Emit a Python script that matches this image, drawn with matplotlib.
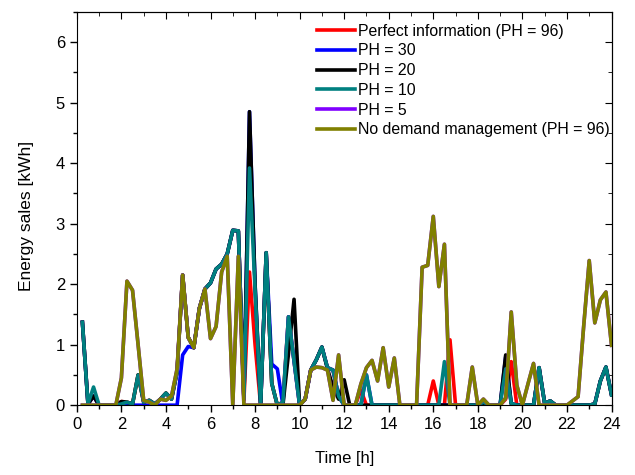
import matplotlib
matplotlib.use("Agg")
import matplotlib.pyplot as plt
import numpy as np

plt.rcParams['font.family'] = ['Liberation Sans', 'DejaVu Sans']

# 15-min steps over one day
time_h = np.arange(1, 97) * 0.25

no_dm = [
    0, 0, 0, 0, 0, 0, 0, 0.45,
    2.05, 1.9, 1.0, 0.08, 0.05, 0.0, 0.1, 0.08,
    0.15, 0.6, 2.15, 1.12, 0.95, 1.6, 1.92, 1.1,
    1.3, 2.2, 2.46, 0, 2.46, 0, 0, 0,
    0, 0, 0, 0, 0, 0, 0, 0,
    0.1, 0.58, 0.63, 0.62, 0.58, 0.08, 0.83, 0,
    0, 0, 0.35, 0.62, 0.74, 0.4, 0.95, 0.3,
    0.78, 0, 0, 0, 0, 2.28, 2.31, 3.12,
    1.96, 2.66, 0, 0, 0, 0, 0.63, 0,
    0.1, 0, 0, 0, 0.12, 1.54, 0.33, 0,
    0.35, 0.69, 0, 0, 0, 0, 0, 0,
    0.07, 0.14, 1.3, 2.39, 1.36, 1.74, 1.87, 0.99,
]

ph10 = [
    1.37, 0.02, 0.3, 0, 0, 0, 0, 0.02,
    0.05, 0.02, 0.5, 0.05, 0.08, 0.02, 0.1, 0.2,
    0.1, 0.55, 2.15, 1.12, 0.95, 1.6, 1.92, 2.02,
    2.25, 2.33, 2.5, 2.89, 2.88, 0.1, 3.92, 1.9,
    0, 2.52, 0.36, 0, 0.05, 1.46, 0.73, 0,
    0.1, 0.58, 0.75, 0.96, 0.62, 0.58, 0.15, 0,
    0, 0, 0, 0.5, 0, 0, 0, 0,
    0, 0, 0, 0, 0, 0, 0, 0,
    0, 0.72, 0, 0, 0, 0, 0, 0,
    0.05, 0, 0, 0, 0.6, 0.03, 0, 0,
    0, 0, 0.62, 0.03, 0.07, 0, 0, 0,
    0, 0, 0, 0, 0.02, 0.4, 0.63, 0.17,
]

ph20 = [
    1.37, 0.02, 0.15, 0, 0, 0, 0, 0.06,
    0.05, 0.02, 0.5, 0.05, 0.08, 0.02, 0.1, 0.2,
    0.1, 0.55, 2.15, 1.12, 0.95, 1.6, 1.92, 2.02,
    2.25, 2.33, 2.5, 2.89, 2.88, 0.1, 4.85, 2.0,
    0, 2.52, 0.36, 0, 0, 0.85, 1.75, 0,
    0.1, 0.58, 0.75, 0.96, 0.6, 0.3, 0.1, 0.42,
    0, 0, 0, 0, 0, 0, 0, 0,
    0, 0, 0, 0, 0, 0, 0, 0,
    0, 0, 0, 0, 0, 0, 0, 0,
    0, 0, 0, 0, 0.83, 0.02, 0, 0,
    0, 0, 0.62, 0.03, 0.07, 0, 0, 0,
    0, 0, 0, 0, 0.02, 0.4, 0.63, 0.17,
]

ph30 = [
    1.37, 0.02, 0.15, 0, 0, 0, 0, 0,
    0, 0, 0, 0, 0, 0, 0, 0,
    0, 0, 0.83, 0.97, 0.95, 1.6, 1.92, 2.02,
    2.25, 2.33, 2.5, 2.89, 2.88, 0.1, 4.85, 2.0,
    0, 2.52, 0.68, 0.6, 0, 1.46, 0.73, 0,
    0.1, 0.58, 0.75, 0.96, 0.62, 0.58, 0.15, 0,
    0, 0, 0, 0.5, 0, 0, 0, 0,
    0, 0, 0, 0, 0, 0, 0, 0,
    0, 0, 0, 0, 0, 0, 0, 0,
    0, 0, 0, 0, 0.8, 0.03, 0, 0,
    0, 0, 0.62, 0.03, 0.07, 0, 0, 0,
    0, 0, 0, 0, 0.02, 0.4, 0.63, 0.17,
]

perfect = [
    1.37, 0.02, 0.15, 0, 0, 0, 0, 0.06,
    0.05, 0.02, 0.5, 0.05, 0.08, 0.02, 0.1, 0.2,
    0.1, 0.55, 2.15, 1.12, 0.95, 1.6, 1.92, 2.02,
    2.25, 2.33, 2.5, 2.89, 2.88, 0.08, 2.2, 1.0,
    0, 2.52, 0.36, 0, 0.05, 1.46, 0.73, 0,
    0.1, 0.58, 0.75, 0.96, 0.62, 0.58, 0.15, 0,
    0, 0, 0.25, 0, 0, 0, 0, 0,
    0, 0, 0, 0, 0, 0, 0, 0.4,
    0, 0, 1.08, 0, 0, 0, 0, 0,
    0, 0, 0, 0, 0.1, 0.72, 0, 0,
    0, 0, 0.62, 0.03, 0.07, 0, 0, 0,
    0, 0, 0, 0, 0.02, 0.4, 0.63, 0.17,
]

ph5 = list(no_dm)

series = [
    ("Perfect information (PH = 96)", perfect, "#ff0000"),
    ("PH = 30", ph30, "#0000ff"),
    ("PH = 20", ph20, "#000000"),
    ("PH = 10", ph10, "#008080"),
    ("PH = 5", ph5, "#8000ff"),
    ("No demand management (PH = 96)", no_dm, "#808000"),
]

fig = plt.figure(figsize=(6.35, 4.75), dpi=100)
ax = fig.add_axes([0.121, 0.147, 0.842, 0.828])

for label, values, color in series:
    ax.plot(time_h, values, color=color, lw=2.6, label=label)

ax.set_xlim(0, 24)
ax.set_ylim(0, 6.5)
ax.set_xticks(np.arange(0, 25, 2))
ax.set_xticks(np.arange(0, 25, 1), minor=True)
ax.set_yticks(np.arange(0, 7, 1))
ax.set_yticks(np.arange(0, 6.6, 0.5), minor=True)
ax.tick_params(which='both', direction='out', labelsize=12, width=1)
ax.tick_params(which='major', length=5)
ax.tick_params(which='minor', length=3)

# mirrored ticks on top and right, pointing inward
top = ax.secondary_xaxis('top')
top.set_xticks(np.arange(0, 25, 2))
top.set_xticks(np.arange(0, 25, 1), minor=True)
top.tick_params(which='both', direction='in', labeltop=False)
top.tick_params(which='major', length=5)
top.tick_params(which='minor', length=3)

right = ax.secondary_yaxis('right')
right.set_yticks(np.arange(0, 7, 1))
right.set_yticks(np.arange(0, 6.6, 0.5), minor=True)
right.tick_params(which='both', direction='in', labelright=False)
right.tick_params(which='major', length=5)
right.tick_params(which='minor', length=3)

ax.set_xlabel("Time [h]", fontsize=12, labelpad=14)
ax.set_ylabel("Energy sales [kWh]", fontsize=12.5)
ax.yaxis.set_label_coords(-0.08, 0.48)

ax.legend(loc='upper left', frameon=False, fontsize=11.4,
          handlelength=2.35, handletextpad=0.2, labelspacing=0.3,
          borderpad=0, borderaxespad=0, bbox_to_anchor=(0.45, 0.97))

fig.savefig("out.png", dpi=100)
